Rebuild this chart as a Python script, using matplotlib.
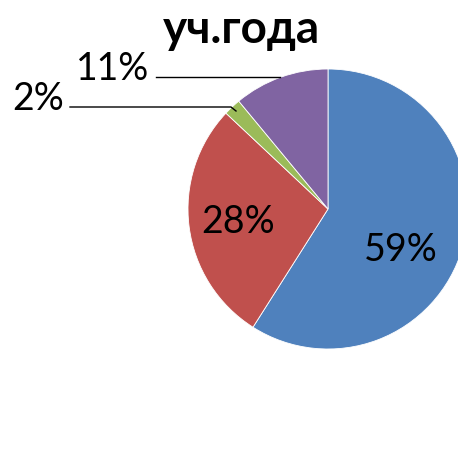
import matplotlib
matplotlib.use("Agg")
import matplotlib.pyplot as plt

title = "уч.года"
labels = ["59%", "28%", "2%", "11%"]
values = [59, 28, 2, 11]
colors = ["#4F81BD", "#C0504D", "#9BBB59", "#8064A2"]

plt.rcParams['font.family'] = ['Lato', 'Open Sans', 'DejaVu Sans']

W, H = 458, 477
fig = plt.figure(figsize=(W / 100, H / 100), dpi=100)
ax = fig.add_axes([0, 0, 1, 1])

# pie centre / radius in pixel units (y up)
cx, cy, r = 328, H - 210, 140
wedges, _ = ax.pie(values, colors=colors, startangle=90, counterclock=False,
                   center=(cx, cy), radius=r,
                   wedgeprops=dict(edgecolor='white', linewidth=0.6))
ax.set_xlim(0, W)
ax.set_ylim(0, H)
ax.set_aspect('auto')
ax.axis('off')

fs = 27
ax.text(401, H - 250, labels[0], fontsize=fs, ha='center', va='center')
ax.text(238, H - 222, labels[1], fontsize=fs, ha='center', va='center')

# outside labels with leader lines
ax.text(38, H - 99, labels[2], fontsize=fs, ha='center', va='center')
ax.plot([70, 231, 236], [H - 108, H - 108, H - 112], color='black', lw=1)
ax.text(113, H - 69, labels[3], fontsize=fs, ha='center', va='center')
ax.plot([156, 280], [H - 78, H - 78], color='black', lw=1)

ax.text(241, H - 30, title, fontsize=33, fontweight='bold', ha='center', va='center')

fig.savefig("out.png", dpi=100)
